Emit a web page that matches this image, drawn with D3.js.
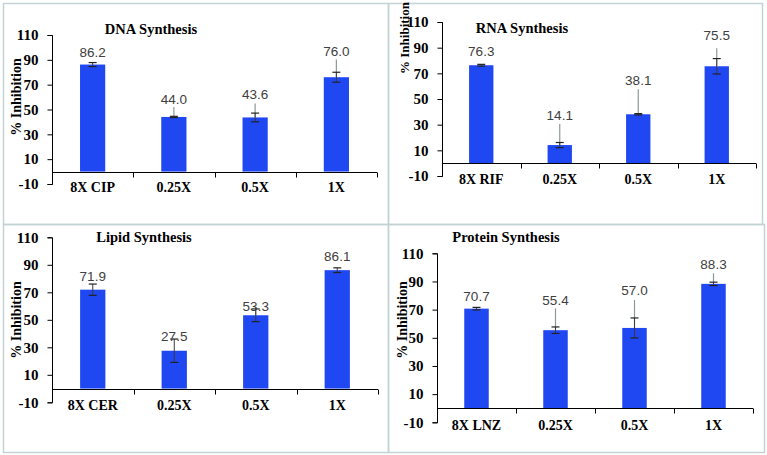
<!DOCTYPE html>
<html><head><meta charset="utf-8">
<script src="https://cdn.jsdelivr.net/npm/d3@7"></script>
<style>html,body{margin:0;padding:0;background:#fff;}svg{display:block;}</style>
</head><body>
<svg id="chart" width="767" height="455"></svg>
<script>
// ---------- data ----------
const yTicks = [-10, 10, 30, 50, 70, 90, 110];

const dnaTitle = "DNA Synthesis";
const dnaCategories = ["8X CIP", "0.25X", "0.5X", "1X"];
const dnaValues = [86.2, 44.0, 43.6, 76.0];
const dnaErrors = [1.6, 0.5, 3.5, 4.0];

const rnaTitle = "RNA Synthesis";
const rnaCategories = ["8X RIF", "0.25X", "0.5X", "1X"];
const rnaValues = [76.3, 14.1, 38.1, 75.5];
const rnaErrors = [0.7, 2.0, 0.5, 6.0];

const lipidTitle = "Lipid Synthesis";
const lipidCategories = ["8X CER", "0.25X", "0.5X", "1X"];
const lipidValues = [71.9, 27.5, 53.3, 86.1];
const lipidErrors = [4.1, 8.5, 4.6, 1.7];

const proteinTitle = "Protein Synthesis";
const proteinCategories = ["8X LNZ", "0.25X", "0.5X", "1X"];
const proteinValues = [70.7, 55.4, 57.0, 88.3];
const proteinErrors = [0.9, 2.3, 7.1, 1.2];

const yLabel = "% Inhibition";

// ---------- layout (pixels / label placement in value units) ----------
const layouts = [
  {title: dnaTitle, cats: dnaCategories, vals: dnaValues, errs: dnaErrors,
   frame: [3, 3, 388, 224], x0: 52, x1: 377, yTop: 35, yBot: 184,
   titlePos: [151, 29], ylabPos: [16, 97], ylabSize: 14,
   labelAt: [96.1, 58.4, 62.1, 97.2], leaderTop: [null, 52, 54.9, 90.3]},
  {title: rnaTitle, cats: rnaCategories, vals: rnaValues, errs: rnaErrors,
   frame: [388, 3, 762, 224], x0: 442, x1: 756, yTop: 22, yBot: 176,
   titlePos: [522, 28], ylabPos: [404, 38], ylabSize: 13,
   labelAt: [86.9, 37.6, 64.8, 99.9], leaderTop: [null, 30.5, 57.6, 89.5]},
  {title: lipidTitle, cats: lipidCategories, vals: lipidValues, errs: lipidErrors,
   frame: [3, 224, 388, 452], x0: 52, x1: 378, yTop: 237.3, yBot: 402.3,
   titlePos: [144, 237], ylabPos: [16, 320], ylabSize: 14,
   labelAt: [81.9, 37.7, 60.1, 96.4], leaderTop: [null, null, 59.1, null]},
  {title: proteinTitle, cats: proteinCategories, vals: proteinValues, errs: proteinErrors,
   frame: [388, 224, 764, 452], x0: 437, x1: 753, yTop: 253.3, yBot: 422.3,
   titlePos: [506, 237], ylabPos: [402, 320], ylabSize: 14,
   labelAt: [79.7, 76.4, 83.5, 102.4], leaderTop: [null, 70.9, 76.8, 95.8]}
];

const svg = d3.select("#chart");
const serif = "'Liberation Serif','Times New Roman',serif";
const sans = "'Liberation Sans',Arial,sans-serif";
const frameColor = "#c3d3d3";
const barColor = "#1f47f2";

// frames
layouts.forEach(L => {
  const [fx0, fy0, fx1, fy1] = L.frame;
  svg.append("rect").attr("x", fx0 + 0.5).attr("y", fy0 + 0.5)
    .attr("width", fx1 - fx0).attr("height", fy1 - fy0)
    .attr("fill", "none").attr("stroke", frameColor).attr("stroke-width", 1.5);
});

layouts.forEach(L => {
  const g = svg.append("g");
  const y = d3.scaleLinear().domain([-10, 110]).range([L.yBot, L.yTop]);
  const x = d3.scaleBand().domain(L.cats).range([L.x0, L.x1]).paddingInner(0).paddingOuter(0);
  const bw = x.bandwidth() * 0.31;
  const cx = c => x(c) + x.bandwidth() / 2;

  // bars
  g.selectAll("rect.bar").data(L.cats).join("rect").attr("class", "bar")
    .attr("x", c => cx(c) - bw / 2)
    .attr("width", bw)
    .attr("y", (c, i) => y(L.vals[i]))
    .attr("height", (c, i) => y(0) - y(L.vals[i]))
    .attr("fill", barColor);

  // y axis
  const yAxis = d3.axisLeft(y).tickValues(yTicks).tickSize(5).tickPadding(9).tickFormat(d => String(d));
  const ya = g.append("g").attr("transform", `translate(${L.x0 + 0.5},0)`).call(yAxis);
  ya.select(".domain").attr("stroke", "#000").attr("d", `M-5,${L.yTop + 0.5}H0V${L.yBot + 0.5}H-5`);
  ya.selectAll(".tick line").attr("stroke", "#000");
  ya.selectAll(".tick text").attr("font-family", serif).attr("font-weight", "bold")
    .attr("font-size", 15).attr("fill", "#000");

  // x axis at zero with boundary ticks
  const xa = g.append("g").attr("transform", `translate(0,${Math.round(y(0)) + 0.5})`);
  xa.append("line").attr("x1", L.x0).attr("x2", L.x1).attr("stroke", "#000");
  const bounds = L.cats.map(c => x(c)).slice(1).concat([L.x1]);
  xa.selectAll("line.bt").data(bounds).join("line").attr("class", "bt")
    .attr("x1", d => Math.round(d) + 0.5).attr("x2", d => Math.round(d) + 0.5)
    .attr("y1", 0).attr("y2", 5).attr("stroke", "#000");

  // category labels at bottom
  g.selectAll("text.cat").data(L.cats).join("text").attr("class", "cat")
    .attr("x", c => cx(c)).attr("y", y(-10) + 3).attr("dy", "0.35em")
    .attr("text-anchor", "middle").attr("font-family", serif).attr("font-weight", "bold")
    .attr("font-size", 14).attr("fill", "#000").text(c => c);

  // leader lines
  L.cats.forEach((c, i) => {
    if (L.leaderTop[i] != null) {
      g.append("line").attr("x1", cx(c)).attr("x2", cx(c))
        .attr("y1", y(L.leaderTop[i])).attr("y2", y(L.vals[i]))
        .attr("stroke", "#8a9a9a").attr("stroke-width", 1.2);
    }
  });

  // error bars
  L.cats.forEach((c, i) => {
    const hi = y(L.vals[i] + L.errs[i]), lo = y(L.vals[i] - L.errs[i]);
    const xc = cx(c);
    g.append("line").attr("x1", xc).attr("x2", xc).attr("y1", hi).attr("y2", lo)
      .attr("stroke", "#3a3a3a").attr("stroke-width", 1);
    [hi, lo].forEach(yy => g.append("line").attr("x1", xc - 4).attr("x2", xc + 4)
      .attr("y1", yy).attr("y2", yy).attr("stroke", "#222").attr("stroke-width", 1.2));
  });

  // value labels
  g.selectAll("text.val").data(L.cats).join("text").attr("class", "val")
    .attr("x", c => cx(c)).attr("y", (c, i) => y(L.labelAt[i])).attr("dy", "0.35em")
    .attr("text-anchor", "middle").attr("font-family", sans).attr("font-size", 13.5)
    .attr("fill", "#404040").text((c, i) => d3.format(".1f")(L.vals[i]));

  // title
  g.append("text").attr("x", L.titlePos[0]).attr("y", L.titlePos[1]).attr("dy", "0.35em")
    .attr("text-anchor", "middle").attr("font-family", serif).attr("font-weight", "bold")
    .attr("font-size", 14.5).attr("fill", "#000").text(L.title);

  // y label
  g.append("text").attr("transform", `translate(${L.ylabPos[0]},${L.ylabPos[1]}) rotate(-90)`)
    .attr("dy", "0.35em").attr("text-anchor", "middle").attr("font-family", serif)
    .attr("font-weight", "bold").attr("font-size", L.ylabSize).attr("fill", "#000").text(yLabel);
});
</script>
</body></html>
